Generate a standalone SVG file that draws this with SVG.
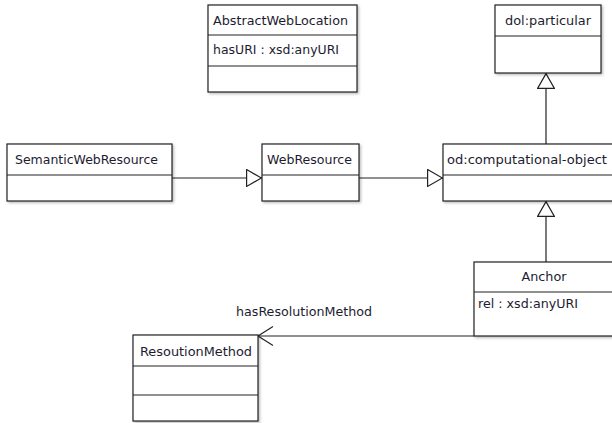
<svg xmlns="http://www.w3.org/2000/svg" width="612" height="423" viewBox="0 0 612 423">
<style>
.box{fill:#fff;stroke:#222;stroke-width:1.2;filter:url(#sh)}
.div{stroke:#222;stroke-width:1.2}
.t{font-family:"DejaVu Sans","Liberation Sans",sans-serif;font-size:12px;fill:#1c1c30}
.c{stroke:#222;stroke-width:1.2;fill:none}
</style>
<defs>
<filter id="sh" x="-10%" y="-10%" width="130%" height="130%">
<feDropShadow dx="1.5" dy="1.5" stdDeviation="1" flood-color="#000" flood-opacity="0.25"/>
</filter>
<marker id="gen" viewBox="0 0 16 18" refX="16" refY="9" markerWidth="16" markerHeight="18" markerUnits="userSpaceOnUse" orient="auto">
<path d="M0.6,0.6 L15.4,9 L0.6,17.4 Z" fill="#fff" stroke="#222" stroke-width="1.2"/>
</marker>
<marker id="open" viewBox="0 0 16 20" refX="15.5" refY="10" markerWidth="16" markerHeight="20" markerUnits="userSpaceOnUse" orient="auto">
<path d="M0.5,0.5 L15.5,10 L0.5,19.5" fill="none" stroke="#222" stroke-width="1.1"/>
</marker>
</defs>
<rect width="612" height="423" fill="#fff"/>

<g id="connectors">
<line class="c" x1="172" y1="178" x2="262" y2="178" marker-end="url(#gen)"/>
<line class="c" x1="359" y1="178" x2="443" y2="178" marker-end="url(#gen)"/>
<line class="c" x1="546" y1="144" x2="546" y2="73" marker-end="url(#gen)"/>
<line class="c" x1="546" y1="262" x2="546" y2="201" marker-end="url(#gen)"/>
<line class="c" x1="474" y1="336" x2="258" y2="336" marker-end="url(#open)"/>
<text class="t" x="236" y="316" textLength="136" lengthAdjust="spacingAndGlyphs">hasResolutionMethod</text>
</g>

<g id="AbstractWebLocation">
<rect class="box" x="208" y="5" width="149" height="87"/>
<line class="div" x1="208" y1="35" x2="357" y2="35"/>
<line class="div" x1="208" y1="66" x2="357" y2="66"/>
<text class="t" x="213" y="25" textLength="135" lengthAdjust="spacingAndGlyphs">AbstractWebLocation</text>
<text class="t" x="213" y="54" textLength="126" lengthAdjust="spacingAndGlyphs">hasURI : xsd:anyURI</text>
</g>

<g id="dolparticular">
<rect class="box" x="495" y="5" width="106" height="68"/>
<line class="div" x1="495" y1="36" x2="601" y2="36"/>
<text class="t" x="548" y="25" text-anchor="middle" textLength="86" lengthAdjust="spacingAndGlyphs">dol:particular</text>
</g>

<g id="SemanticWebResource">
<rect class="box" x="7" y="144" width="165" height="57"/>
<line class="div" x1="7" y1="175" x2="172" y2="175"/>
<text class="t" x="15" y="164" textLength="143" lengthAdjust="spacingAndGlyphs">SemanticWebResource</text>
</g>

<g id="WebResource">
<rect class="box" x="262" y="144" width="97" height="57"/>
<line class="div" x1="262" y1="175" x2="359" y2="175"/>
<text class="t" x="267" y="164" textLength="85" lengthAdjust="spacingAndGlyphs">WebResource</text>
</g>

<g id="computationalObject">
<rect class="box" x="443" y="144" width="178" height="57"/>
<line class="div" x1="443" y1="175" x2="621" y2="175"/>
<text class="t" x="447" y="164" textLength="160" lengthAdjust="spacingAndGlyphs">od:computational-object</text>
</g>

<g id="Anchor">
<rect class="box" x="474" y="262" width="146" height="74"/>
<line class="div" x1="474" y1="292" x2="620" y2="292"/>
<text class="t" x="544" y="281" text-anchor="middle" textLength="45" lengthAdjust="spacingAndGlyphs">Anchor</text>
<text class="t" x="478" y="308" textLength="100" lengthAdjust="spacingAndGlyphs">rel : xsd:anyURI</text>
</g>

<g id="ResoutionMethod">
<rect class="box" x="133" y="335" width="125" height="86"/>
<line class="div" x1="133" y1="366" x2="258" y2="366"/>
<line class="div" x1="133" y1="395" x2="258" y2="395"/>
<text class="t" x="140" y="356" textLength="112" lengthAdjust="spacingAndGlyphs">ResoutionMethod</text>
</g>
</svg>
